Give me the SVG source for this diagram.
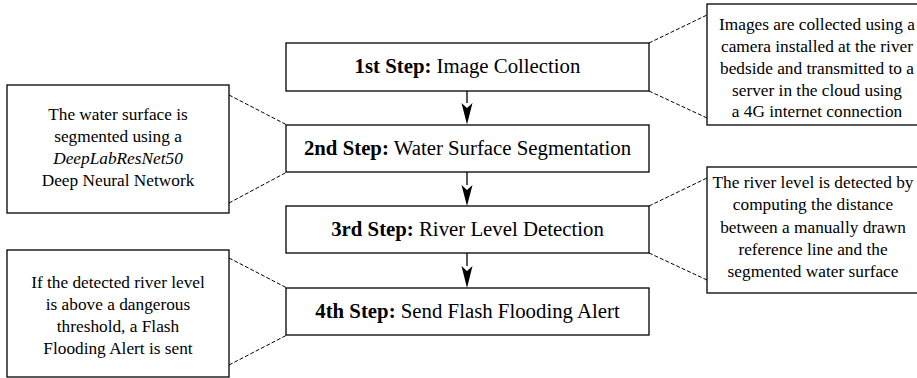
<svg xmlns="http://www.w3.org/2000/svg" width="917" height="378" viewBox="0 0 917 378">
<defs>
<style>
.box{fill:#fff;stroke:#000;stroke-width:1.3}
.st{font-family:"Liberation Serif","Times New Roman",serif;font-size:20.8px;text-anchor:middle;fill:#000}
.nt{font-family:"Liberation Serif","Times New Roman",serif;font-size:17.3px;text-anchor:middle;fill:#000}
.dash{stroke:#000;stroke-width:1;stroke-dasharray:4 2;fill:none}
.arr{stroke:#000;stroke-width:1.3;fill:none}
</style>
</defs>
<rect width="917" height="378" fill="#fff"/>
<g id="connectors">
<line class="arr" x1="467" y1="91" x2="467" y2="103"/>
<path d="M461.5,103 L467,108 L472.5,103 L467,124.5 Z" fill="#000"/>
<line class="arr" x1="467" y1="172" x2="467" y2="185"/>
<path d="M461.5,185 L467,190 L472.5,185 L467,206 Z" fill="#000"/>
<line class="arr" x1="467" y1="253" x2="467" y2="266"/>
<path d="M461.5,266 L467,271 L472.5,266 L467,288 Z" fill="#000"/>
<line class="dash" x1="649" y1="43" x2="707" y2="15"/>
<line class="dash" x1="649" y1="91" x2="707" y2="118"/>
<line class="dash" x1="229" y1="95" x2="287" y2="125"/>
<line class="dash" x1="229" y1="203" x2="287" y2="172"/>
<line class="dash" x1="649" y1="206" x2="707" y2="178"/>
<line class="dash" x1="649" y1="253" x2="707" y2="280"/>
<line class="dash" x1="229" y1="258" x2="287" y2="288"/>
<line class="dash" x1="229" y1="365" x2="287" y2="335"/>
</g>
<g id="step1">
<rect class="box" x="286" y="43" width="363" height="48"/>
<text class="st" x="467.5" y="73"><tspan font-weight="bold">1st Step:</tspan> Image Collection</text>
</g>
<g id="step2">
<rect class="box" x="286" y="125" width="363" height="47"/>
<text class="st" x="467.5" y="155"><tspan font-weight="bold">2nd Step:</tspan> Water Surface Segmentation</text>
</g>
<g id="step3">
<rect class="box" x="286" y="206" width="363" height="47"/>
<text class="st" x="467.5" y="236"><tspan font-weight="bold">3rd Step:</tspan> River Level Detection</text>
</g>
<g id="step4">
<rect class="box" x="286" y="288" width="363" height="47"/>
<text class="st" x="467.5" y="318"><tspan font-weight="bold">4th Step:</tspan> Send Flash Flooding Alert</text>
</g>
<g id="note1">
<rect class="box" x="707" y="4" width="222" height="121"/>
<text class="nt" x="817" y="30">Images are collected using a</text>
<text class="nt" x="817" y="52">camera installed at the river</text>
<text class="nt" x="817" y="74">bedside and transmitted to a</text>
<text class="nt" x="817" y="96">server in the cloud using</text>
<text class="nt" x="817" y="117">a 4G internet connection</text>
</g>
<g id="note2">
<rect class="box" x="7" y="85" width="222" height="128"/>
<text class="nt" x="118" y="120">The water surface is</text>
<text class="nt" x="118" y="142">segmented using a</text>
<text class="nt" x="118" y="164" font-style="italic">DeepLabResNet50</text>
<text class="nt" x="118" y="186">Deep Neural Network</text>
</g>
<g id="note3">
<rect class="box" x="707" y="167" width="222" height="126"/>
<text class="nt" x="813" y="188">The river level is detected by</text>
<text class="nt" x="813" y="210">computing the distance</text>
<text class="nt" x="813" y="233">between a manually drawn</text>
<text class="nt" x="813" y="255">reference line and the</text>
<text class="nt" x="813" y="277">segmented water surface</text>
</g>
<g id="note4">
<rect class="box" x="7" y="250" width="222" height="127"/>
<text class="nt" x="118" y="288">If the detected river level</text>
<text class="nt" x="118" y="310">is above a dangerous</text>
<text class="nt" x="118" y="332">threshold, a Flash</text>
<text class="nt" x="118" y="354">Flooding Alert is sent</text>
</g>
</svg>
